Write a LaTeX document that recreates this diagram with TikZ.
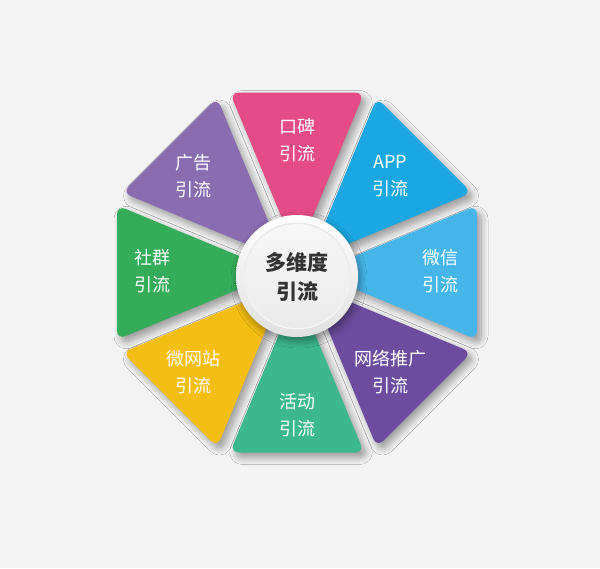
\documentclass[tikz,border=0pt]{standalone}
\usepackage{fontspec}
\setmainfont{Noto Sans CJK SC}
\usetikzlibrary{shadows.blur}
\definecolor{bg}{HTML}{F4F4F4}
\definecolor{cpink}{HTML}{E54B86}
\definecolor{capp}{HTML}{1BA8E2}
\definecolor{cwx}{HTML}{46B6EA}
\definecolor{cnet}{HTML}{6D4C9F}
\definecolor{cteal}{HTML}{3DB78E}
\definecolor{cyel}{HTML}{F4BE12}
\definecolor{cgreen}{HTML}{35AC5A}
\definecolor{cad}{HTML}{8A6DB1}
\definecolor{ctext}{HTML}{333333}
\begin{document}
\begin{tikzpicture}[x=1pt,y=-1pt,
  seg/.style={rounded corners=9pt,
    blur shadow={shadow xshift=4pt, shadow yshift=-5pt, shadow blur radius=7pt, shadow blur steps=12, shadow opacity=38}},
  lab/.style={text=white, font=\fontsize{18}{27}\selectfont, align=center, inner sep=0pt},
  hub/.style={text=ctext, font=\fontsize{21}{29}\selectfont\bfseries, align=center, inner sep=0pt}]
\fill[bg] (0,0) rectangle (600,568);
\useasboundingbox (0,0) rectangle (600,568);
% segments
\foreach \a/\c in {135/cad, 180/cgreen, -135/cyel, 90/cpink, -90/cteal, 45/capp, 0/cwx, -45/cnet}{
  \begin{scope}[shift={(297,272.5)}, rotate=\a]
    \fill[\c, seg] (18,0) -- (180,67.1) -- (180,-67.1) -- cycle;
  \end{scope}
}
% hub circle
\path[top color=white, bottom color=black!12,
  blur shadow={shadow xshift=2pt, shadow yshift=-4pt, shadow blur radius=7pt, shadow blur steps=10, shadow opacity=40}]
  (297,276) circle (61);
\path[top color=black!9, bottom color=black!3] (297,276) circle (53.5);
\path[top color=black!3, bottom color=black!8] (297,276) circle (52);
% labels
\node[lab] (t1) at (297,140.5) {口碑\\引流};
\node[lab] (t2) at (390,176.5) {APP\\引流};
\node[lab] (t3) at (440,271) {微信\\引流};
\node[lab] (t4) at (390,372.5) {网络推广\\引流};
\node[lab] (t5) at (297,415) {活动\\引流};
\node[lab] (t6) at (193,372.5) {微网站\\引流};
\node[lab] (t7) at (152,271) {社群\\引流};
\node[lab] (t8) at (193,176.5) {广告\\引流};
\node[hub] (c) at (297,277) {多维度\\引流};
\end{tikzpicture}
\end{document}
